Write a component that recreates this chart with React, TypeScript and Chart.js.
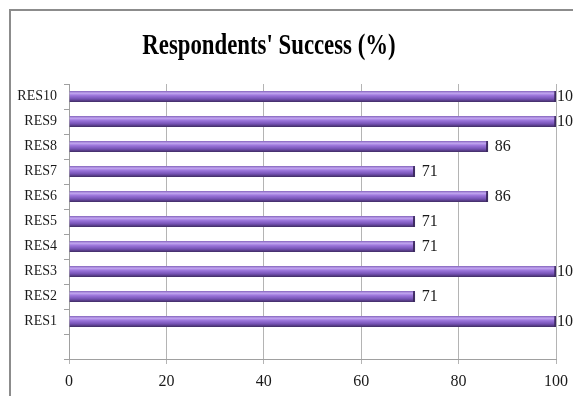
import React, { useEffect, useRef } from "react";
import { Chart, registerables } from "chart.js";

Chart.register(...registerables);

// Respondents and their success rate (%)
const respondents = ["RES1", "RES2", "RES3", "RES4", "RES5", "RES6", "RES7", "RES8", "RES9", "RES10"];
const success = [100, 71, 100, 71, 71, 86, 71, 86, 100, 100];
const xTicks = [0, 20, 40, 60, 80, 100];
const titleText = "Respondents' Success (%)";

// Top-to-bottom order with an empty slot under RES1
const labels = [...respondents].reverse().concat([""]);
const values: (number | null)[] = [...success].reverse().map((v) => v as number | null).concat([null]);

const SERIF = "'Liberation Serif', 'Times New Roman', serif";

const framePlugin = {
  id: "frame",
  beforeDraw(chart: any) {
    const c = chart.ctx;
    c.save();
    c.fillStyle = "#ffffff";
    c.fillRect(0, 0, chart.width, chart.height);
    c.strokeStyle = "#8c8c8c";
    c.lineWidth = 2;
    c.strokeRect(10, 10, chart.width + 20, chart.height + 20);
    c.restore();
  },
};

const titlePlugin = {
  id: "condensedTitle",
  afterDraw(chart: any) {
    const c = chart.ctx;
    c.save();
    c.font = `bold 30px ${SERIF}`;
    c.fillStyle = "#000";
    c.textAlign = "center";
    c.textBaseline = "alphabetic";
    c.translate(269, 54);
    c.scale(0.76, 1);
    c.fillText(titleText, 0, 0);
    c.restore();
  },
};

const shadowPlugin = {
  id: "barShadow",
  beforeDatasetsDraw(chart: any) {
    const c = chart.ctx;
    c.save();
    c.shadowColor = "rgba(0,0,0,0.3)";
    c.shadowBlur = 2;
    c.shadowOffsetY = 2;
    c.shadowOffsetX = 1;
  },
  afterDatasetsDraw(chart: any) {
    chart.ctx.restore();
  },
};

const valueLabels = {
  id: "valueLabels",
  afterDatasetsDraw(chart: any) {
    const c = chart.ctx;
    const meta = chart.getDatasetMeta(0);
    const data = chart.data.datasets[0].data;
    c.save();
    c.font = `16px ${SERIF}`;
    c.fillStyle = "#1a1a1a";
    c.textAlign = "left";
    c.textBaseline = "middle";
    meta.data.forEach((el: any, i: number) => {
      const v = data[i];
      if (v == null) return;
      const gap = v >= 100 ? 1 : 7;
      c.fillText(String(v), el.x + gap, el.y);
    });
    c.restore();
  },
};

function barFill(ctx: any) {
  const chart = ctx.chart;
  const yScale = chart.scales && chart.scales.y;
  if (!chart.chartArea || !yScale || ctx.dataIndex == null) return "#8462c0";
  const yc = yScale.getPixelForValue(ctx.dataIndex);
  const g = chart.ctx.createLinearGradient(0, yc - 5.5, 0, yc + 5.5);
  g.addColorStop(0, "#8262bb");
  g.addColorStop(0.2, "#c2a6f0");
  g.addColorStop(0.42, "#9a74da");
  g.addColorStop(0.72, "#7552b4");
  g.addColorStop(1, "#3f2c63");
  return g;
}

export default function App() {
  const ref = useRef<HTMLCanvasElement | null>(null);

  useEffect(() => {
    if (!ref.current) return;
    const chart = new Chart(ref.current, {
      type: "bar",
      data: {
        labels,
        datasets: [
          {
            data: values,
            backgroundColor: barFill,
            borderColor: "#45306e",
            borderWidth: { top: 0, right: 2, bottom: 0, left: 0 },
            borderSkipped: false,
            barThickness: 11,
          },
        ],
      },
      options: {
        indexAxis: "y",
        responsive: false,
        animation: false,
        layout: { padding: { top: 84, right: 17, left: 0, bottom: 0 } },
        plugins: {
          legend: { display: false },
          title: { display: false },
          tooltip: { enabled: false },
        },
        scales: {
          x: {
            min: 0,
            max: 100,
            afterBuildTicks(scale: any) {
              scale.ticks = xTicks.map((v) => ({ value: v }));
            },
            afterFit(scale: any) {
              scale.height = 37;
              scale.paddingLeft = 0;
              scale.paddingRight = 0;
            },
            grid: { color: "#b4b4b4", tickColor: "#b4b4b4", tickLength: 5, lineWidth: 1 },
            border: { color: "#a0a0a0" },
            ticks: { color: "#1a1a1a", font: { family: SERIF, size: 16 }, padding: 8, maxRotation: 0 },
          },
          y: {
            type: "category",
            offset: true,
            afterFit(scale: any) {
              scale.width = 69;
              scale.paddingTop = 0;
              scale.paddingBottom = 0;
            },
            grid: { offset: true, drawOnChartArea: false, tickLength: 5, tickColor: "#a0a0a0" },
            border: { color: "#a0a0a0" },
            ticks: { color: "#1a1a1a", font: { family: SERIF, size: 14 }, padding: 7, autoSkip: false },
          },
        },
      },
      plugins: [framePlugin, shadowPlugin, valueLabels, titlePlugin],
    } as any);
    return () => chart.destroy();
  }, []);

  return (
    <div style={{ position: "fixed", left: 0, top: 0, width: 573, height: 396, overflow: "hidden" }}>
      <canvas ref={ref} width={573} height={396} style={{ display: "block" }} />
    </div>
  );
}
